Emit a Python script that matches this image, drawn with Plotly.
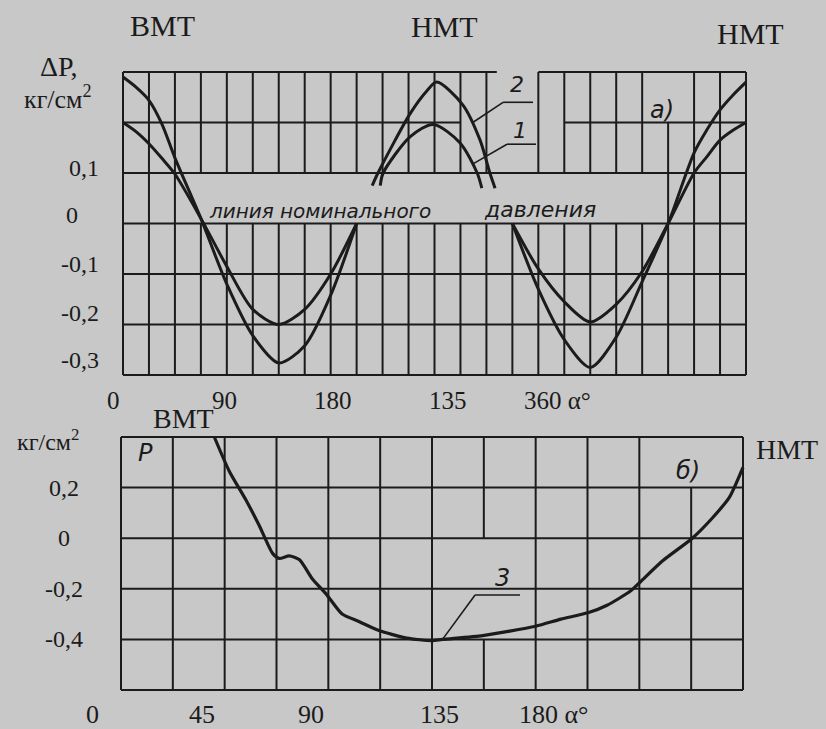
import plotly.graph_objects as go

W, H = 826, 729
BG = "#c8c8c8"
INK = "#1b1b1b"
SERIF = "Liberation Serif"
HAND = "DejaVu Sans"

# ---------------- data ----------------
top_x_ticks = [0, 90, 180, 270, 360]
top_x_labels = ["0", "90", "180", "135", "360 α°"]
top_y_ticks = [0.1, 0.0, -0.1, -0.2, -0.3]
top_y_labels = ["0,1", "0", "-0,1", "-0,2", "-0,3"]

bot_x_ticks = [0, 45, 90, 135, 180]
bot_x_labels = ["0", "45", "90", "135", "180 α°"]
bot_y_ticks = [0.2, 0.0, -0.2, -0.4]
bot_y_labels = ["0,2", "0", "-0,2", "-0,4"]

# curve 2 (top chart), three visible pieces
c2_x = [0, 11.25, 22.5, 33.75, 45, 67.5, 90, 112.5, 135, 157.5, 180, 202.5, None,
        216, 221, 249, 263.5, 272, 294.5, 309.5, 318, 322.5, None,
        337.5, 360, 382.5, 405, 427.5, 450, 472.5, 495, 506, 517.5, 529, 540]
c2_y = [0.29, 0.27, 0.244, 0.197, 0.13, 0.01, -0.12, -0.222, -0.276, -0.242, -0.142, 0.0, None,
        0.075, 0.1, 0.218, 0.263, 0.28, 0.235, 0.165, 0.1, 0.07, None,
        0.0, -0.13, -0.23, -0.285, -0.225, -0.115, 0.0, 0.14, 0.185, 0.225, 0.255, 0.28]
# curve 1 (top chart)
c1_x = [0, 11.25, 22.5, 33.75, 45, 67.5, 90, 112.5, 135, 157.5, 180, 202.5, None,
        223, 225.5, 249, 269, 292, 307, 311, None,
        337.5, 360, 382.5, 405, 427.5, 450, 472.5, 495, 506, 517.5, 529, 540]
c1_y = [0.2, 0.182, 0.158, 0.129, 0.098, 0.01, -0.085, -0.17, -0.2, -0.17, -0.1, 0.0, None,
        0.075, 0.1, 0.172, 0.196, 0.16, 0.1, 0.07, None,
        0.0, -0.09, -0.155, -0.195, -0.16, -0.095, 0.0, 0.1, 0.132, 0.165, 0.185, 0.2]
# curve 3 (bottom chart)
c3_x = [40.5, 47, 54.3, 60, 65.8, 68.7, 73, 77.5, 83, 89, 96, 103.5, 112, 124,
        135, 139.5, 157, 180, 191, 203, 211, 221, 225.7, 235, 248, 256.7, 264, 270]
c3_y = [0.4, 0.265, 0.15, 0.05, -0.06, -0.08, -0.07, -0.085, -0.16, -0.22, -0.30,
        -0.33, -0.365, -0.395, -0.405, -0.40, -0.385, -0.348, -0.32, -0.294, -0.265,
        -0.21, -0.17, -0.09, 0.0, 0.08, 0.16, 0.28]

# ---------------- geometry (pixels) ----------------
# top chart: x 0..540 deg -> px 123..746 ; y 0.3..-0.3 -> px 72..375
T_X = (0, 540, 123, 746)
T_Y = (0.3, -0.3, 72, 375)
# bottom chart: x 0..270 -> px 121..743 ; y 0.4..-0.6 -> px 437..690
B_X = (0, 270, 121, 743)
B_Y = (0.4, -0.6, 437, 690)
PAD = 6


def axis_setup(xd, yd):
    x0, x1, p0, p1 = xd
    k = (p1 - p0) / (x1 - x0)
    xr = [x0 - PAD / k, x1 + PAD / k]
    xdom = [(p0 - PAD) / W, (p1 + PAD) / W]
    y0, y1, q0, q1 = yd
    m = (q1 - q0) / (y0 - y1)
    yr = [y1 - PAD / m, y0 + PAD / m]
    ydom = [1 - (q1 + PAD) / H, 1 - (q0 - PAD) / H]
    return xr, xdom, yr, ydom


def v2px_y(v, yd):
    y0, y1, q0, q1 = yd
    return q0 + (y0 - v) * (q1 - q0) / (y0 - y1)


def v2px_x(v, xd):
    x0, x1, p0, p1 = xd
    return p0 + (v - x0) * (p1 - p0) / (x1 - x0)


txr, txd, tyr, tyd = axis_setup(T_X, T_Y)
bxr, bxd, byr, byd = axis_setup(B_X, B_Y)

fig = go.Figure()
line_kw = dict(color=INK, width=3, shape="spline", smoothing=0.8)
fig.add_trace(go.Scatter(x=c2_x, y=c2_y, mode="lines", line=line_kw,
                         connectgaps=False, hoverinfo="skip", xaxis="x", yaxis="y"))
fig.add_trace(go.Scatter(x=c1_x, y=c1_y, mode="lines", line=line_kw,
                         connectgaps=False, hoverinfo="skip", xaxis="x", yaxis="y"))
fig.add_trace(go.Scatter(x=c3_x, y=c3_y, mode="lines",
                         line=dict(color=INK, width=3.2, shape="spline", smoothing=0.6),
                         hoverinfo="skip", xaxis="x2", yaxis="y2"))

shapes = []


def seg(xr_, yr_, x0, y0, x1, y1, w=2):
    shapes.append(dict(type="line", xref=xr_, yref=yr_, x0=x0, y0=y0, x1=x1, y1=y1,
                       line=dict(color=INK, width=w), layer="below"))


# ---- top grid ----
STEP = 22.5
top_h = {0.3: [(0, 324), (360, 540)], 0.2: [(0, 292.5), (382.5, 540)]}
for j in range(7):
    yv = round(0.3 - 0.1 * j, 2)
    for a, b in top_h.get(yv, [(0, 540)]):
        seg("x", "y", a, yv, b, yv)
for i in range(25):
    xv = STEP * i
    if i == 15:
        parts = [(-0.3, 0.0)]
    elif i == 21:
        parts = [(-0.3, 0.2)]
    elif 3 <= i <= 20:
        parts = [(-0.3, 0.0), (0.1, 0.3)]
    else:
        parts = [(-0.3, 0.3)]
    for a, b in parts:
        seg("x", "y", xv, a, xv, b)

# ---- bottom grid ----
for j in range(6):
    yv = round(0.4 - 0.2 * j, 2)
    seg("x2", "y2", 0, yv, 270, yv)
for i in range(13):
    xv = STEP * i
    if i == 7:
        parts = [(-0.6, -0.4), (0.0, 0.4)]
    elif i == 11:
        parts = [(-0.6, 0.2)]
    else:
        parts = [(-0.6, 0.4)]
    for a, b in parts:
        seg("x2", "y2", xv, a, xv, b)

# ---- leader lines ----
seg("x", "y", 302.5, 0.199, 329.4, 0.24, 1.6)
seg("x", "y", 329.4, 0.24, 355.4, 0.24, 1.6)
seg("x", "y", 303.4, 0.118, 332.8, 0.157, 1.6)
seg("x", "y", 332.8, 0.157, 358.0, 0.157, 1.6)
seg("x2", "y2", 139.8, -0.397, 153.7, -0.2245, 1.6)
seg("x2", "y2", 153.7, -0.2245, 173.2, -0.2245, 1.6)

annotations = []


def ann(text, px, py, size, family=SERIF, italic=False, xanchor="center", yanchor="middle"):
    annotations.append(dict(text=text, x=px / W, y=1 - py / H, xref="paper", yref="paper",
                            showarrow=False, xanchor=xanchor, yanchor=yanchor,
                            font=dict(family=family, size=size, color=INK,
                                      style="italic" if italic else "normal")))


# headers
ann("ВМТ", 162, 25, 30)
ann("НМТ", 445, 27, 30)
ann("НМТ", 750, 34, 30)
ann("ΔP,", 58, 66, 28)
ann("кг/см<sup>2</sup>", 58, 97, 26)
ann("кг/см<sup>2</sup>", 48, 440, 24)
ann("ВМТ", 183, 418, 28)
ann("НМТ", 787, 449, 28)

# top y tick labels (pixel x centre, pixel shift above the grid line)
top_y_lab_px = [84, 72, 80, 80, 80]
top_y_lab_dy = [-5, -9, -10, -12, -15]
for v, t, px, dy in zip(top_y_ticks, top_y_labels, top_y_lab_px, top_y_lab_dy):
    ann(t, px, v2px_y(v, T_Y) + dy, 24)
# top x labels
top_x_lab_dx = [-10, -2, 2, 13, -16]
for v, t, dx in zip(top_x_ticks, top_x_labels, top_x_lab_dx):
    if "α" in t:
        ann(t, v2px_x(v, T_X) + dx, 400, 25, xanchor="left")
    else:
        ann(t, v2px_x(v, T_X) + dx, 400, 25)
# bottom y labels
for v, t in zip(bot_y_ticks, bot_y_labels):
    ann(t, 64, v2px_y(v, B_Y), 24)
# bottom x labels
bot_x_lab_dx = [-29, -23, -17, 7, -19]
for v, t, dx in zip(bot_x_ticks, bot_x_labels, bot_x_lab_dx):
    if "α" in t:
        ann(t, v2px_x(v, B_X) + dx, 714, 26, xanchor="left")
    else:
        ann(t, v2px_x(v, B_X) + dx, 714, 26)

# handwritten labels
ann("линия", 207, 211, 20, HAND, True, xanchor="left")
ann("номинального", 278, 211, 20, HAND, True, xanchor="left")
ann("давления", 482, 209, 22, HAND, True, xanchor="left")
ann("2", 517, 85, 22, HAND, True)
ann("1", 520, 130, 22, HAND, True)
ann("а)", 662, 110, 24, HAND, True)
ann("Р", 145, 453, 24, HAND, True)
ann("б)", 688, 471, 24, HAND, True)
ann("3", 502, 578, 24, HAND, True)

ax_common = dict(visible=False, fixedrange=True, showgrid=False, zeroline=False)
fig.update_layout(
    width=W, height=H, margin=dict(l=0, r=0, t=0, b=0),
    paper_bgcolor=BG, plot_bgcolor=BG, showlegend=False,
    xaxis=dict(range=txr, domain=txd, anchor="y", **ax_common),
    yaxis=dict(range=tyr, domain=tyd, anchor="x", **ax_common),
    xaxis2=dict(range=bxr, domain=bxd, anchor="y2", **ax_common),
    yaxis2=dict(range=byr, domain=byd, anchor="x2", **ax_common),
    shapes=shapes, annotations=annotations,
)

fig.write_html("out.html", config={"displayModeBar": False},
               post_script="document.body.style.margin='0';document.body.style.overflow='hidden';")
